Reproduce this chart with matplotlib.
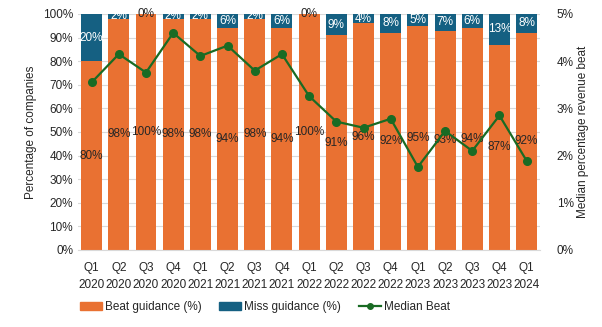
import numpy as np
import matplotlib.pyplot as plt
from matplotlib.patches import Patch
from matplotlib.lines import Line2D
from matplotlib.ticker import PercentFormatter

plt.rcParams['font.family'] = ['Liberation Sans', 'DejaVu Sans']

quarters = ['Q1\n2020', 'Q2\n2020', 'Q3\n2020', 'Q4\n2020',
            'Q1\n2021', 'Q2\n2021', 'Q3\n2021', 'Q4\n2021',
            'Q1\n2022', 'Q2\n2022', 'Q3\n2022', 'Q4\n2022',
            'Q1\n2023', 'Q2\n2023', 'Q3\n2023', 'Q4\n2023',
            'Q1\n2024']
beat = [80, 98, 100, 98, 98, 94, 98, 94, 100, 91, 96, 92, 95, 93, 94, 87, 92]
miss = [20, 2, 0, 2, 2, 6, 2, 6, 0, 9, 4, 8, 5, 7, 6, 13, 8]
median_beat = [3.55, 4.15, 3.76, 4.60, 4.11, 4.33, 3.80, 4.15, 3.26,
               2.72, 2.59, 2.78, 1.76, 2.52, 2.10, 2.85, 1.89]

orange = '#E97132'
blue = '#156082'
green = '#196B24'
text_col = '#262626'

fig = plt.figure(figsize=(6.02, 3.27), dpi=100)
ax = fig.add_axes([0.1296, 0.2355, 0.7678, 0.7217])
x = np.arange(len(quarters))
w = 0.77

ax.bar(x, beat, w, color=orange, zorder=2)
ax.bar(x, miss, w, bottom=beat, color=blue, zorder=2)

for i in range(len(x)):
    ax.text(x[i], beat[i] / 2, f'{beat[i]}%', ha='center', va='center',
            fontsize=8.5, color=text_col, zorder=4)
    ax.text(x[i], beat[i] + miss[i] / 2, f'{miss[i]}%', ha='center', va='center',
            fontsize=8.5, color='white' if miss[i] > 0 else text_col, zorder=4)

ax.set_xlim(-0.5, len(x) - 0.5)
ax.set_ylim(0, 100)
ax.set_yticks(np.arange(0, 101, 10))
ax.yaxis.set_major_formatter(PercentFormatter(decimals=0))
ax.set_xticks(x)
ax.set_xticklabels(quarters, fontsize=8.5, color=text_col, linespacing=1.45)
ax.tick_params(axis='both', length=0, labelsize=8.5, colors=text_col)
ax.tick_params(axis='x', pad=9)
ax.grid(axis='y', color='#D9D9D9', linewidth=0.8, zorder=0)
for s in ax.spines.values():
    s.set_visible(False)
ax.spines['bottom'].set_visible(True)
ax.spines['bottom'].set_color('#D9D9D9')
ax.set_ylabel('Percentage of companies', fontsize=8.5, color=text_col)

ax2 = ax.twinx()
ax2.plot(x, median_beat, color=green, linewidth=1.6, marker='o', markersize=5.5, zorder=5)
ax2.set_ylim(0, 5)
ax2.set_yticks(np.arange(0, 6, 1))
ax2.yaxis.set_major_formatter(PercentFormatter(decimals=0))
ax2.tick_params(axis='y', length=0, labelsize=8.5, colors=text_col, pad=12)
for s in ax2.spines.values():
    s.set_visible(False)
ax2.set_ylabel('Median percentage revenue beat', fontsize=8.5, color=text_col, labelpad=2)

handles = [Patch(color=orange), Patch(color=blue),
           Line2D([0], [0], color=green, linewidth=1.6, marker='o', markersize=4)]
fig.legend(handles, ['Beat guidance (%)', 'Miss guidance (%)', 'Median Beat'],
           loc='center', bbox_to_anchor=(0.44, 0.06), ncol=3, frameon=False,
           fontsize=8.5, handlelength=1.85, handletextpad=0.25, columnspacing=1.5,
           labelcolor=text_col)

fig.savefig('out.png', dpi=100)
